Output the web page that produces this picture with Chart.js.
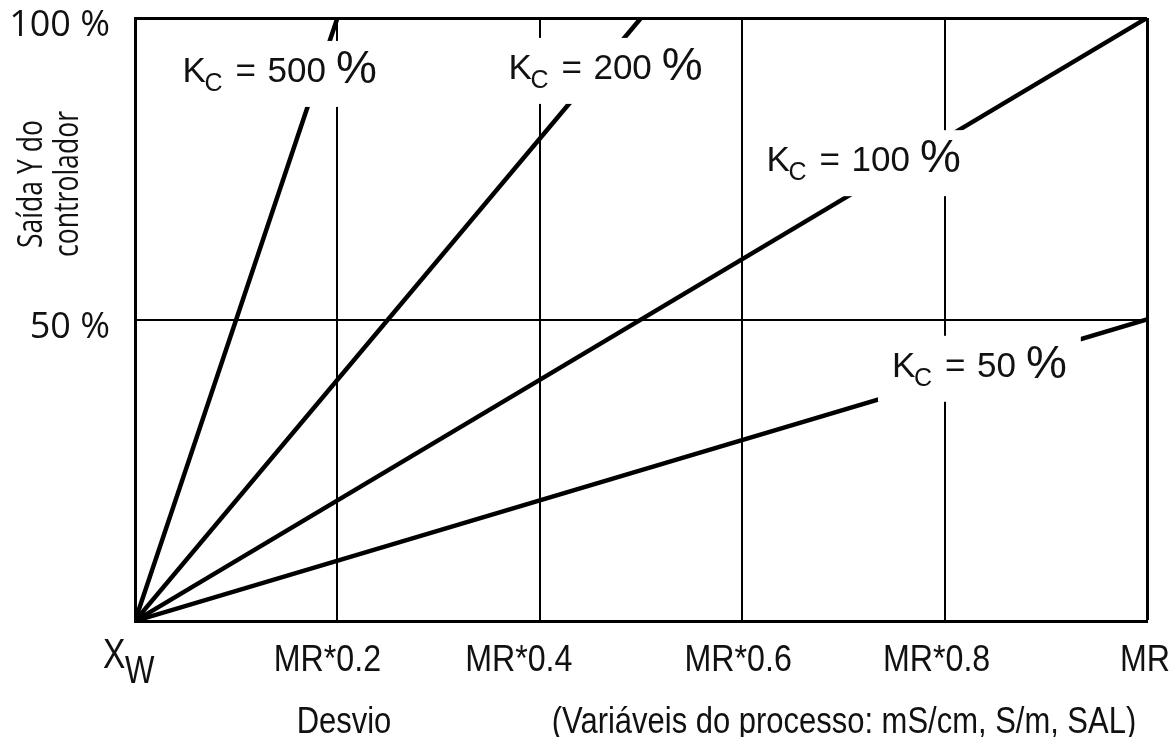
<!DOCTYPE html>
<html>
<head>
<meta charset="utf-8">
<script src="https://cdn.jsdelivr.net/npm/chart.js@4/dist/chart.umd.min.js"></script>
<style>
  html, body { margin: 0; padding: 0; background: #fff; }
  #wrap { width: 1171px; height: 737px; }
</style>
</head>
<body>
<div id="wrap"><canvas id="Chart_1"></canvas></div>
<script>
const color = '#111'
const sansFont = "'Liberation Sans', Arial, sans-serif"
const openFont = "'Open Sans', 'Noto Sans', sans-serif"

// controller gains, in %
const gains = [500, 200, 100, 50]
// where each proportional line stops (deviation as fraction of MR, output %)
const endX = [0.2, 0.5, 1, 1]
const endY = [100, 100, 100, 50]

const xTicks = [0, 0.2, 0.4, 0.6, 0.8, 1]
const xTickLabels = ['', 'MR*0.2', 'MR*0.4', 'MR*0.6', 'MR*0.8', 'MR']
const yTicks = [0, 50, 100]
const yTickLabels = ['', '50 %', '100 %']

// anchor of each "Kc = ..." tag (left edge of K, text baseline) in data units
const tagX = [0.047, 0.369, 0.624, 0.748]
const tagY = [89.4, 89.9, 74.6, 40.5]

// small sideways nudge of each x label off its grid line, px
const xLabelNudge = [0, -10, -21, -4, -8, -2]

const datasets = gains.map((g, i) => ({
  label: 'Kc = ' + g + ' %',
  data: [{ x: 0, y: 0 }, { x: endX[i], y: endY[i] }],
  borderColor: '#000',
  borderWidth: 4.5,
  pointRadius: 0,
  fill: false
}))

// keep the plot box fixed, ignore label overhang
function noOverhang(s) {
  s.paddingTop = 0
  s.paddingBottom = 0
  s.paddingLeft = 0
  s.paddingRight = 0
}

// text squeezed sideways (no narrow face installed)
function narrowText(c, text, x, y, font, sx, align) {
  c.save()
  c.translate(x, y)
  c.scale(sx, 1)
  c.font = font
  c.textAlign = align || 'left'
  c.fillText(text, 0, 0)
  c.restore()
}

// white boxed "K_C = n %" tags laid over the lines
const tagPlugin = {
  id: 'gainTags',
  afterDatasetsDraw(chart) {
    const c = chart.ctx
    const xs = chart.scales.x, ys = chart.scales.y
    c.save()
    gains.forEach((g, i) => {
      const x0 = xs.getPixelForValue(tagX[i])
      const base = ys.getPixelForValue(tagY[i])
      c.font = '35px ' + sansFont
      const num = String(g)
      const numW = c.measureText(num).width
      const pctX = x0 + 85 + numW + 10
      c.font = '46px ' + sansFont
      const pctW = c.measureText('%').width
      c.fillStyle = '#fff'
      c.fillRect(x0 - 14, base - 41, pctX + pctW + 14 - (x0 - 14), 66)

      c.fillStyle = color
      c.textBaseline = 'alphabetic'
      c.textAlign = 'left'
      c.font = '35px ' + sansFont
      c.fillText('K', x0, base)
      c.fillText('=', x0 + 53, base)
      c.fillText(num, x0 + 85, base)
      c.font = '25px ' + sansFont
      c.fillText('C', x0 + 22, base + 9)
      c.font = '46px ' + sansFont
      c.fillText('%', pctX, base + 1)
    })
    c.restore()
  },
  afterDraw(chart) {
    const c = chart.ctx
    const xs = chart.scales.x
    const x0 = xs.getPixelForValue(0)
    c.save()
    c.fillStyle = color
    c.textBaseline = 'alphabetic'

    // x tick labels at the scale's tick positions
    xTicks.forEach((v, i) => {
      if (!xTickLabels[i]) return
      narrowText(c, xTickLabels[i], xs.getPixelForValue(v) + xLabelNudge[i], 671, '37px ' + sansFont, 0.87, 'center')
    })

    // origin label X_W
    narrowText(c, 'X', x0 - 32, 668, '42px ' + sansFont, 0.8)
    narrowText(c, 'W', x0 - 10, 683, '38px ' + sansFont, 0.82)

    // axis titles
    narrowText(c, 'Desvio', 344, 733, '36px ' + sansFont, 0.86, 'center')
    narrowText(c, '(Variáveis do processo: mS/cm, S/m, SAL)', 844, 733, '36px ' + sansFont, 0.86, 'center')

    c.translate(0, 184)
    c.rotate(-Math.PI / 2)
    narrowText(c, 'Saída Y do', 0, 42, '35px ' + openFont, 0.76, 'center')
    narrowText(c, 'controlador', 0, 78, '35px ' + openFont, 0.76, 'center')
    c.restore()
  }
}

const ctx = document.getElementById('Chart_1').getContext('2d')

const chart = new Chart(ctx, {
  type: 'line',
  data: { datasets: datasets },
  options: {
    responsive: true,
    maintainAspectRatio: false,
    animation: false,
    layout: { padding: { left: 0, top: 18, right: 24, bottom: 0 } },
    scales: {
      x: {
        type: 'linear',
        min: 0,
        max: 1,
        afterBuildTicks: s => { s.ticks = xTicks.map(v => ({ value: v })) },
        afterFit: s => { s.height = 116; noOverhang(s) },
        ticks: { display: false },
        grid: {
          color: '#000',
          lineWidth: c => (c.tick && c.tick.value === 1 ? 3 : 2),
          drawTicks: false
        },
        border: { color: '#000', width: 3 }
      },
      y: {
        type: 'linear',
        min: 0,
        max: 100,
        afterBuildTicks: s => { s.ticks = yTicks.map(v => ({ value: v })) },
        afterFit: s => { s.width = 135; noOverhang(s) },
        ticks: {
          color: color,
          padding: 25,
          labelOffset: 8,
          font: { family: openFont, size: 36 },
          callback: (v, i) => yTickLabels[i]
        },
        grid: {
          color: '#000',
          lineWidth: c => (c.tick && c.tick.value === 100 ? 3 : 2),
          drawTicks: false
        },
        border: { color: '#000', width: 3 }
      }
    },
    plugins: {
      legend: { display: false },
      tooltip: { enabled: false }
    }
  },
  plugins: [tagPlugin]
})
</script>
</body>
</html>
